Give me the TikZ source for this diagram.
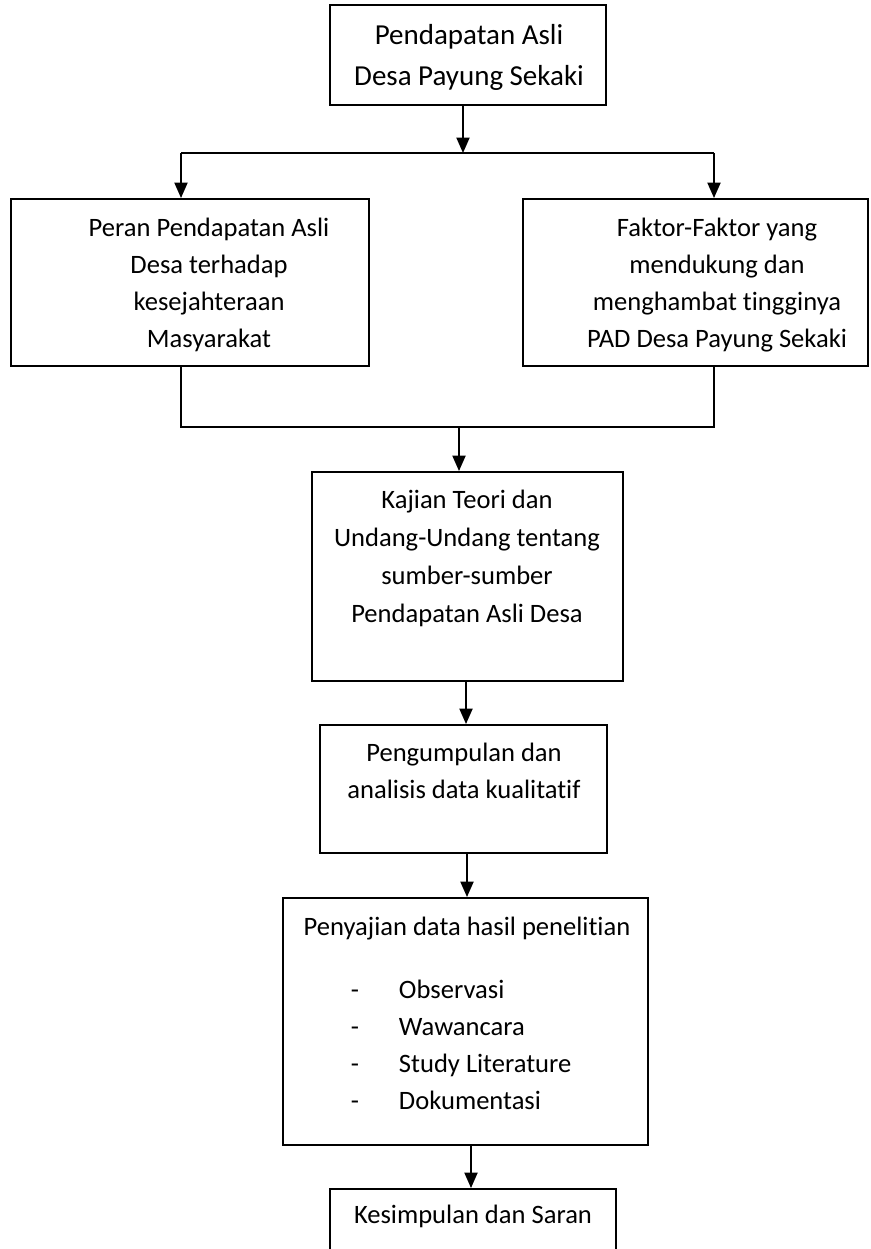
\documentclass[tikz,border=0pt]{standalone}
\usepackage{fontspec}
\setmainfont{Carlito}[Ligatures={NoCommon,NoRare}]
\usepackage{xcolor}
\usepackage{tikz}
\usetikzlibrary{arrows.meta}

\begin{document}
\begin{tikzpicture}[x=0.414pt,y=-0.414pt,line width=.8pt,
  >={Triangle[length=6.4pt,width=5.4pt]},
  box/.style={draw,inner sep=0pt},
  txt/.style={font=\fontsize{11}{15.3}\selectfont,align=center,inner sep=0pt,anchor=base}]
  \useasboundingbox (0,0) rectangle (870,1249);

  % kotak-kotak
  \node[box,minimum width=276*.414pt,minimum height=100*.414pt] (asli) at (468,55) {};
  \node[box,minimum width=358*.414pt,minimum height=167*.414pt] (peran) at (190,282.5) {};
  \node[box,minimum width=345*.414pt,minimum height=167*.414pt] (faktor) at (695.5,282.5) {};
  \node[box,minimum width=311*.414pt,minimum height=209*.414pt] (kajian) at (467.5,576.5) {};
  \node[box,minimum width=287*.414pt,minimum height=128*.414pt] (kumpul) at (463.5,789) {};
  \node[box,minimum width=365*.414pt,minimum height=247*.414pt] (saji) at (465.5,1021.5) {};
  \node[box,minimum width=286*.414pt,minimum height=91*.414pt] (simpul) at (473,1234.5) {};

  % isi kotak (titik = garis dasar baris terakhir)
  \node[txt,font=\fontsize{12}{16.6}\selectfont] (aslitxt) at (469,85)
    {Pendapatan Asli\\Desa Payung Sekaki};
  \node[txt] (perantxt) at (209,347)
    {Peran Pendapatan Asli\\Desa terhadap\\kesejahteraan\\Masyarakat};
  \node[txt] (faktortxt) at (717,347)
    {Faktor-Faktor yang\\mendukung dan\\menghambat tingginya\\PAD Desa Payung Sekaki};
  \node[txt,font=\fontsize{11}{15.7}\selectfont] (kajiantxt) at (467,622)
    {Kajian Teori dan\\Undang-Undang tentang\\sumber-sumber\\Pendapatan Asli Desa};
  \node[txt] (kumpultxt) at (464,798)
    {Pengumpulan dan\\analisis data kualitatif};
  \node[txt] (sajitxt) at (467,935) {Penyajian data hasil penelitian};
  \foreach \isi [count=\i] in {Observasi,Wawancara,Study Literature,Dokumentasi} {
    \node[txt,anchor=base west] (strip\i) at (350,960.7+37.3*\i) {-};
    \node[txt,anchor=base west] (butir\i) at (398,960.7+37.3*\i) {\isi};
  }
  \node[txt] (simpultxt) at (473,1223) {Kesimpulan dan Saran};

  % panah
  \coordinate (bagi) at (463,153);
  \coordinate (bagiL) at (181,153);
  \coordinate (bagiR) at (714,153);
  \draw[->] (asli.south -| bagi) -- (bagi);
  \draw (bagiL) -- (bagiR);
  \draw[->] (bagiL) -- (bagiL |- peran.north);
  \draw[->] (bagiR) -- (bagiR |- faktor.north);

  \coordinate (gabung) at (459,427);
  \coordinate (gabungL) at (181,427);
  \coordinate (gabungR) at (714,427);
  \draw (peran.south -| gabungL) -- (gabungL) -- (gabungR) -- (faktor.south -| gabungR);
  \draw[->] (gabung) -- (gabung |- kajian.north);

  \draw[->] (kajian.south -| 466,0) -- (kumpul.north -| 466,0);
  \draw[->] (kumpul.south -| 467,0) -- (saji.north -| 467,0);
  \draw[->] (saji.south -| 471,0) -- (simpul.north -| 471,0);
\end{tikzpicture}
\end{document}
